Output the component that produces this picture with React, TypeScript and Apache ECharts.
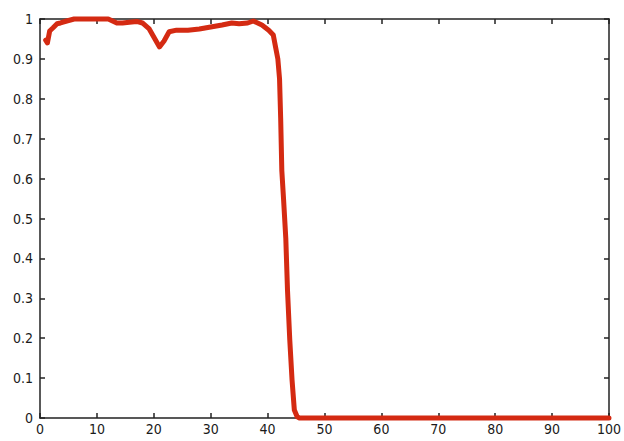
import React, { useEffect, useRef } from "react";
import * as echarts from "echarts";

const xValues = [
  1, 1.3, 1.7, 2.3, 3.0, 3.6, 4.7, 6, 8, 10, 12, 13.5, 14.5, 15.7, 17, 18, 19.2, 20.2, 21,
  21.8, 22.7, 24, 26, 28, 30, 32, 33.7, 35, 36.5, 37.5, 39, 40.2, 41.0, 41.4, 41.8, 42.1, 42.3,
  42.5, 42.8, 43.2, 43.5, 43.9, 44.3, 44.7, 45.2, 45.6, 50, 60, 70, 80, 90, 100,
];
const yValues = [
  0.947, 0.94, 0.97, 0.978, 0.988, 0.99, 0.995, 1.0, 1.0, 1.0, 1.0, 0.99, 0.99, 0.992, 0.994,
  0.99, 0.975, 0.95, 0.93, 0.945, 0.968, 0.972, 0.972, 0.975, 0.98, 0.985, 0.99, 0.988, 0.99,
  0.995, 0.985, 0.972, 0.96, 0.93, 0.9, 0.85, 0.75, 0.62, 0.55, 0.45, 0.32, 0.195, 0.095, 0.02,
  0.003, 0, 0, 0, 0, 0, 0, 0,
];
const xTicks = [0, 10, 20, 30, 40, 50, 60, 70, 80, 90, 100];
const yTicks = [0, 0.1, 0.2, 0.3, 0.4, 0.5, 0.6, 0.7, 0.8, 0.9, 1];

export default function App() {
  const ref = useRef<HTMLDivElement>(null);
  useEffect(() => {
    if (!ref.current) return;
    const chart = echarts.init(ref.current, null, { renderer: "svg" });
    const axisLine = { show: true, onZero: false, lineStyle: { color: "#222", width: 1.5 } };
    const tick = { show: true, inside: true, length: 5, lineStyle: { color: "#222", width: 1.5 } };
    const label = {
      color: "#1a1a1a",
      fontFamily: "DejaVu Sans Condensed, DejaVu Sans",
      fontSize: 14,
    };
    chart.setOption({
      animation: false,
      backgroundColor: "#fff",
      grid: { left: 40, right: 12, top: 19, bottom: 23, containLabel: false },
      xAxis: [
        {
          type: "value",
          position: "bottom",
          min: 0,
          max: 100,
          interval: 10,
          axisLine,
          axisTick: tick,
          splitLine: { show: false },
          axisLabel: {
            ...label,
            margin: 4,
            formatter: (v: number) => (xTicks.includes(v) ? String(v) : ""),
          },
        },
        {
          type: "value",
          position: "top",
          min: 0,
          max: 100,
          interval: 10,
          axisLine,
          axisTick: tick,
          splitLine: { show: false },
          axisLabel: { show: false },
        },
      ],
      yAxis: [
        {
          type: "value",
          position: "left",
          min: 0,
          max: 1,
          interval: 0.1,
          axisLine,
          axisTick: tick,
          splitLine: { show: false },
          axisLabel: {
            ...label,
            margin: 7,
            formatter: (v: number) => {
              const r = Math.round(v * 10) / 10;
              return yTicks.includes(r) ? String(r) : "";
            },
          },
        },
        {
          type: "value",
          position: "right",
          min: 0,
          max: 1,
          interval: 0.1,
          axisLine,
          axisTick: tick,
          splitLine: { show: false },
          axisLabel: { show: false },
        },
      ],
      series: [
        {
          type: "line",
          xAxisIndex: 0,
          yAxisIndex: 0,
          data: xValues.map((x, i) => [x, yValues[i]]),
          showSymbol: false,
          clip: false,
          lineStyle: { color: "#d42a12", width: 5, join: "round", cap: "round" },
        },
      ],
    });
    return () => chart.dispose();
  }, []);
  return <div ref={ref} style={{ width: 624, height: 441, position: "absolute", left: 0, top: 0 }} />;
}
